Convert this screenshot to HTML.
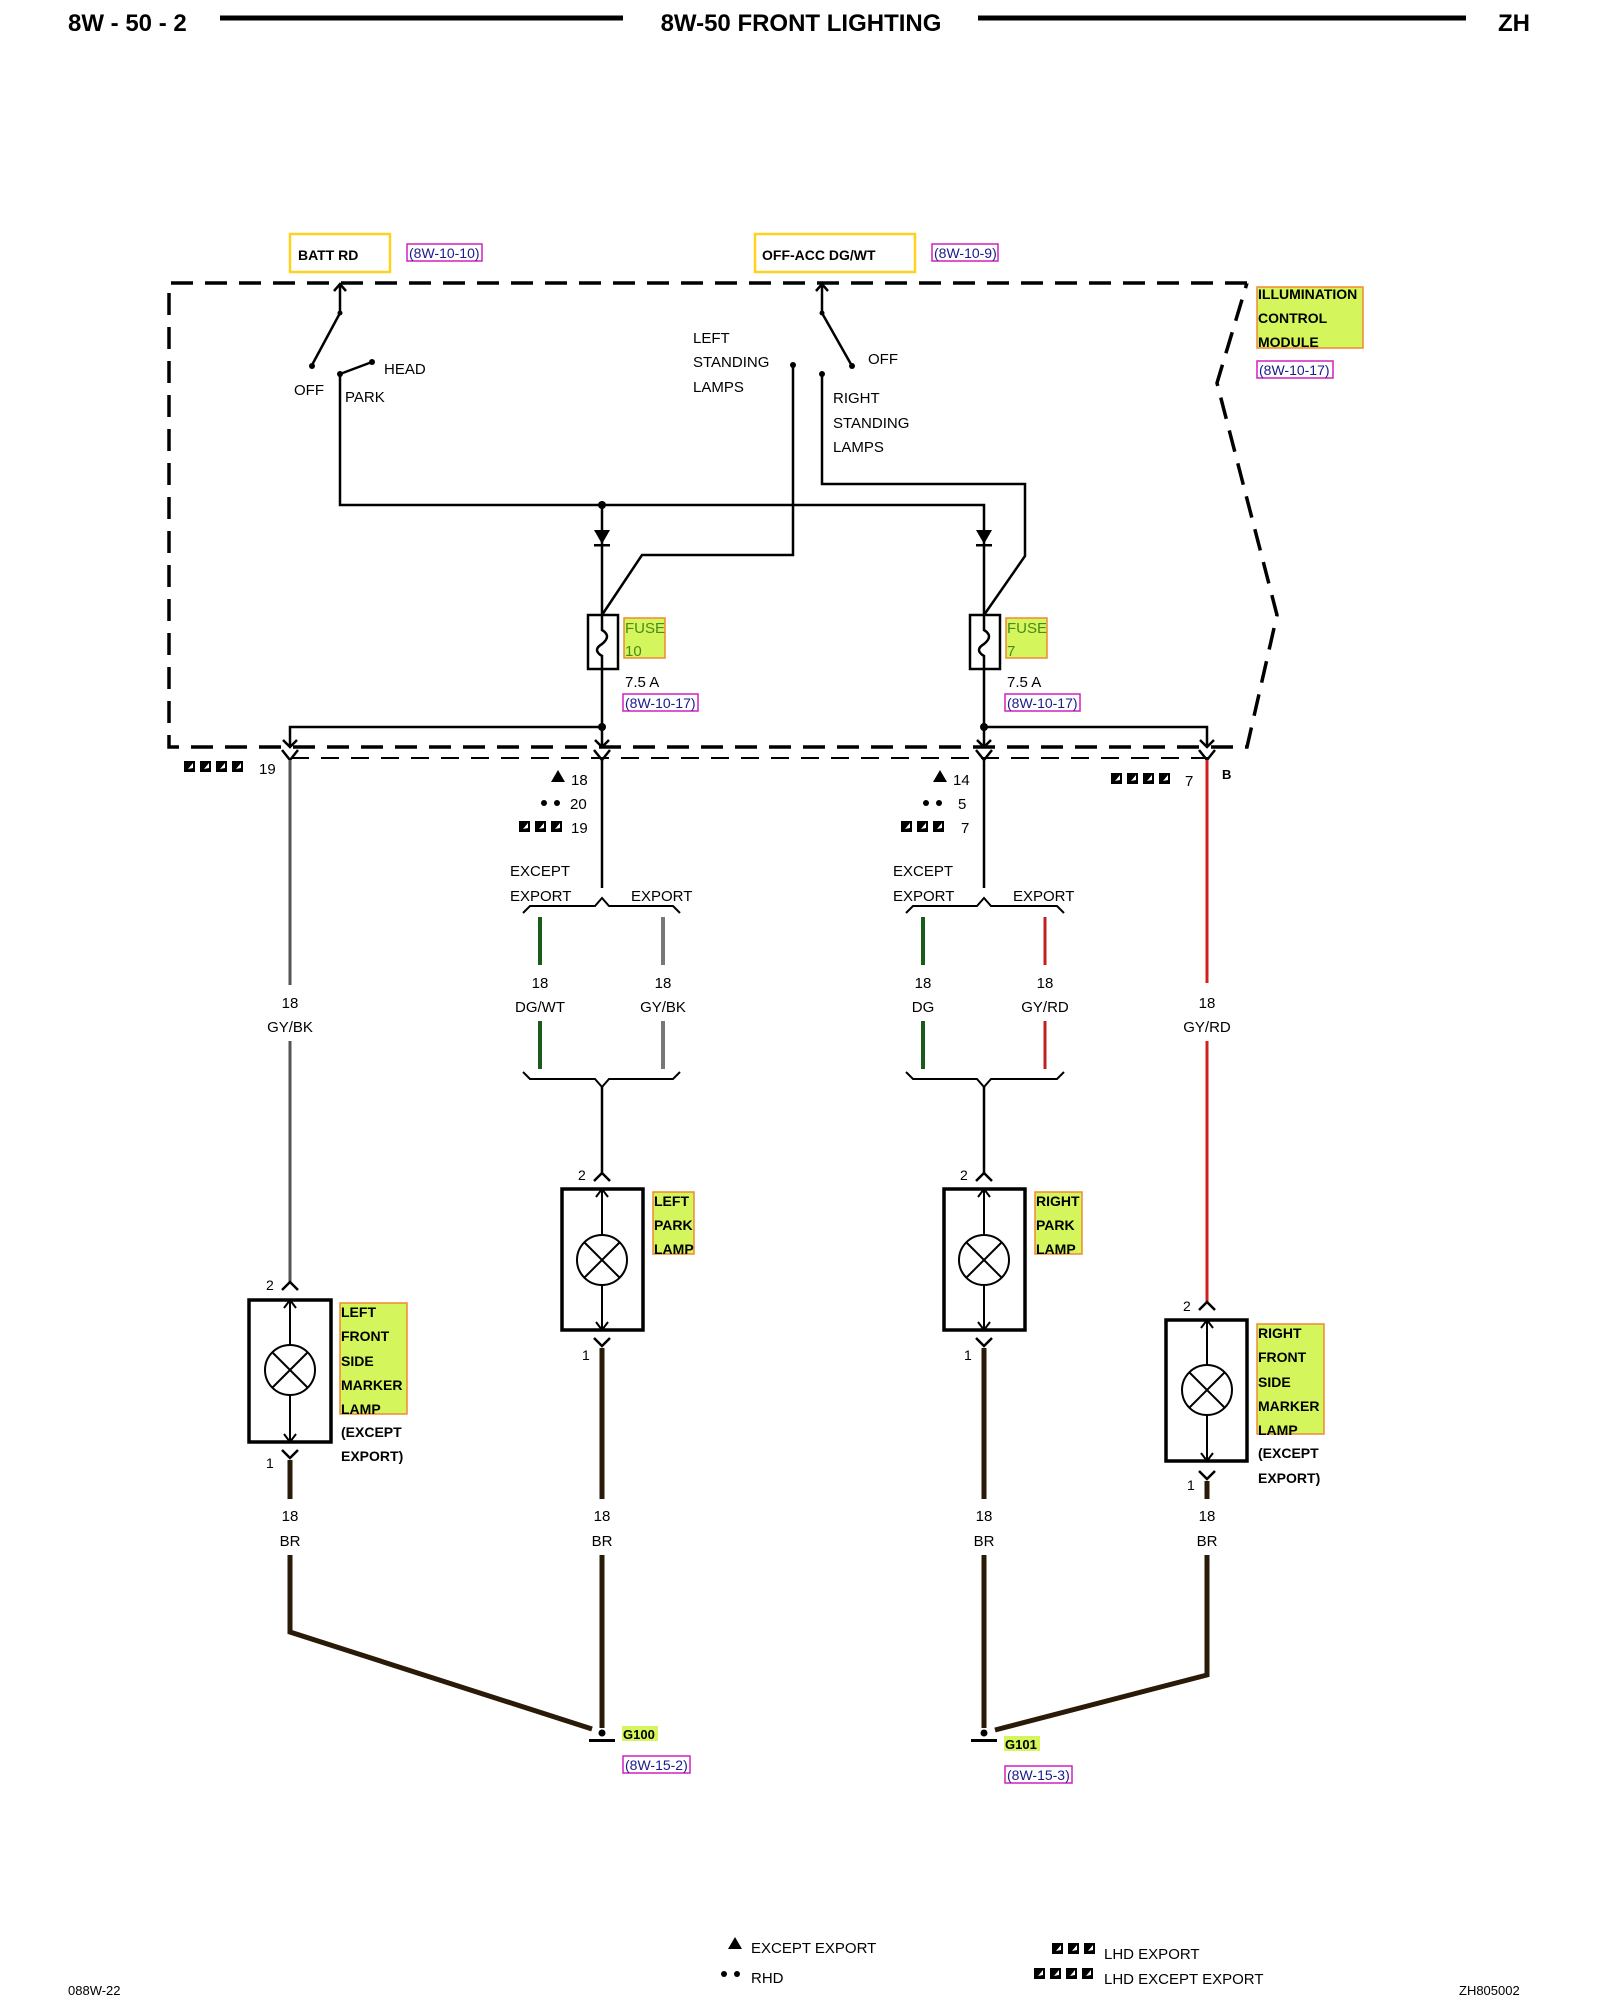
<!DOCTYPE html>
<html><head><meta charset="utf-8"><style>
html,body{margin:0;padding:0;background:#fff}
svg{display:block}
text{font-family:"Liberation Sans",sans-serif;fill:#000}
.s{font-size:15px}
.b{font-size:15px;font-weight:bold}
.r{font-size:14px;fill:#1a1a8c}
</style></head><body>
<svg width="1600" height="2000" viewBox="0 0 1600 2000" xmlns="http://www.w3.org/2000/svg">
<defs>
<g id="sq"><rect x="0" y="-11" width="11" height="11" fill="#000"/><path d="M4,-3 L9,-9 L9,-4 Z" fill="#fff"/></g>
</defs>
<!-- header -->
<text x="68" y="31" style="font-size:24px;font-weight:bold">8W - 50 - 2</text>
<line x1="220" y1="18" x2="623" y2="18" stroke="#000" stroke-width="5"/>
<text x="801" y="31" text-anchor="middle" style="font-size:24px;font-weight:bold">8W-50 FRONT LIGHTING</text>
<line x1="978" y1="18" x2="1466" y2="18" stroke="#000" stroke-width="5"/>
<text x="1498" y="31" style="font-size:24px;font-weight:bold">ZH</text>

<!-- top labels -->
<rect x="290" y="234" width="100" height="38" fill="#fff" stroke="#ffd21f" stroke-width="2.5"/>
<text x="298" y="260" class="b" style="font-size:14px">BATT RD</text>
<rect x="407" y="244" width="75" height="17" fill="#fff" stroke="#d020c0" stroke-width="1.5"/>
<text x="409" y="258" class="r">(8W-10-10)</text>
<rect x="755" y="234" width="160" height="38" fill="#fff" stroke="#ffd21f" stroke-width="2.5"/>
<text x="762" y="260" class="b" style="font-size:14px">OFF-ACC DG/WT</text>
<rect x="932" y="244" width="66" height="17" fill="#fff" stroke="#d020c0" stroke-width="1.5"/>
<text x="934" y="258" class="r">(8W-10-9)</text>

<!-- module dashed box -->
<path d="M1247,283 L169,283 L169,747 L1247,747 L1277,615 L1217,383 L1247,283" fill="none" stroke="#000" stroke-width="3.5" stroke-dasharray="22,12"/>
<line x1="291" y1="758" x2="1209" y2="758" stroke="#000" stroke-width="2" stroke-dasharray="18,12"/>
<rect x="1257" y="287" width="106" height="61" fill="#d4f55c" stroke="#f08a30" stroke-width="1.5"/>
<text x="1258" y="299" class="b" style="font-size:14px">ILLUMINATION</text>
<text x="1258" y="323" class="b" style="font-size:14px">CONTROL</text>
<text x="1258" y="347" class="b" style="font-size:14px">MODULE</text>
<rect x="1257" y="361" width="76" height="17" fill="#fff" stroke="#d020c0" stroke-width="1.5"/>
<text x="1259" y="375" class="r">(8W-10-17)</text>

<g stroke="#000" stroke-width="2.5" fill="none">
<!-- switch 1 -->
<path d="M334,291 L340,284 L346,291"/>
<line x1="340" y1="284" x2="340" y2="313"/>
<line x1="340" y1="313" x2="312" y2="365"/>
<path d="M340,374 L372,362"/>
<path d="M340,374 L340,505 L984,505 L984,615"/>
<line x1="602" y1="505" x2="602" y2="615"/>
<!-- switch 2 -->
<path d="M816,291 L822,284 L828,291"/>
<line x1="822" y1="284" x2="822" y2="313"/>
<line x1="822" y1="313" x2="852" y2="366"/>
<path d="M822,374 L822,484 L1025,484 L1025,556 L984,615"/>
<path d="M793,365 L793,555 L642,555 L602,615"/>
<!-- fuses -->
<rect x="588" y="615" width="30" height="54"/>
<rect x="970" y="615" width="30" height="54"/>
<path d="M602,615 L602,630 Q612,636 602,644 Q592,650 602,656 L602,669"/>
<path d="M984,615 L984,630 Q994,636 984,644 Q974,650 984,656 L984,669"/>
<line x1="602" y1="669" x2="602" y2="747"/>
<line x1="984" y1="669" x2="984" y2="747"/>
<path d="M602,727 L290,727 L290,747"/>
<path d="M984,727 L1207,727 L1207,747"/>
<path d="M283,740 L290,747 L297,740 M595,740 L602,747 L609,740 M977,740 L984,747 L991,740 M1200,740 L1207,747 L1214,740"/>
<!-- connector Y at row -->
<path d="M282,750 L290,760 L298,750 M594,750 L602,760 L610,750 M976,750 L984,760 L992,750 M1199,750 L1207,760 L1215,750"/>
</g>
<g fill="#000">
<circle cx="312" cy="366" r="3"/><circle cx="340" cy="374" r="3"/><circle cx="372" cy="362" r="3"/><circle cx="340" cy="313" r="2.5"/>
<circle cx="852" cy="366" r="3"/><circle cx="822" cy="374" r="3"/><circle cx="793" cy="365" r="3"/><circle cx="822" cy="313" r="2.5"/>
<circle cx="602" cy="505" r="4"/><circle cx="602" cy="727" r="4"/><circle cx="984" cy="727" r="4"/>
<path d="M594,530 L610,530 L602,544 Z"/><rect x="594" y="544" width="16" height="2.5"/>
<path d="M976,530 L992,530 L984,544 Z"/><rect x="976" y="544" width="16" height="2.5"/>
</g>
<text x="294" y="395" class="s">OFF</text>
<text x="345" y="402" class="s">PARK</text>
<text x="384" y="374" class="s">HEAD</text>
<text x="693" y="343" class="s">LEFT</text>
<text x="693" y="367" class="s">STANDING</text>
<text x="693" y="392" class="s">LAMPS</text>
<text x="868" y="364" class="s">OFF</text>
<text x="833" y="403" class="s">RIGHT</text>
<text x="833" y="428" class="s">STANDING</text>
<text x="833" y="452" class="s">LAMPS</text>
<rect x="624" y="618" width="41" height="40" fill="#d4f55c" stroke="#f08a30" stroke-width="1.5"/>
<text x="625" y="633" class="s" style="fill:#4a8a1a">FUSE</text><text x="625" y="656" class="s" style="fill:#4a8a1a">10</text>
<rect x="1006" y="618" width="41" height="40" fill="#d4f55c" stroke="#f08a30" stroke-width="1.5"/>
<text x="1007" y="633" class="s" style="fill:#4a8a1a">FUSE</text><text x="1007" y="656" class="s" style="fill:#4a8a1a">7</text>
<text x="625" y="687" class="s">7.5 A</text>
<rect x="623" y="694" width="75" height="17" fill="#fff" stroke="#d020c0" stroke-width="1.5"/><text x="625" y="708" class="r">(8W-10-17)</text>
<text x="1007" y="687" class="s">7.5 A</text>
<rect x="1005" y="694" width="75" height="17" fill="#fff" stroke="#d020c0" stroke-width="1.5"/><text x="1007" y="708" class="r">(8W-10-17)</text>

<!-- connector row labels -->
<use href="#sq" x="184" y="772"/><use href="#sq" x="200" y="772"/><use href="#sq" x="216" y="772"/><use href="#sq" x="232" y="772"/>
<text x="259" y="774" class="s">19</text>
<path d="M551,782 L558,770 L565,782 Z"/><text x="571" y="785" class="s">18</text>
<circle cx="544" cy="803" r="3"/><circle cx="557" cy="803" r="3"/><text x="570" y="809" class="s">20</text>
<use href="#sq" x="519" y="832"/><use href="#sq" x="535" y="832"/><use href="#sq" x="551" y="832"/><text x="571" y="833" class="s">19</text>
<path d="M933,782 L940,770 L947,782 Z"/><text x="953" y="785" class="s">14</text>
<circle cx="926" cy="803" r="3"/><circle cx="939" cy="803" r="3"/><text x="958" y="809" class="s">5</text>
<use href="#sq" x="901" y="832"/><use href="#sq" x="917" y="832"/><use href="#sq" x="933" y="832"/><text x="961" y="833" class="s">7</text>
<use href="#sq" x="1111" y="784"/><use href="#sq" x="1127" y="784"/><use href="#sq" x="1143" y="784"/><use href="#sq" x="1159" y="784"/>
<text x="1185" y="786" class="s">7</text>
<text x="1222" y="779" class="b" style="font-size:13px">B</text>

<!-- left marker wire -->
<g fill="none" stroke-width="3">
<line x1="290" y1="760" x2="290" y2="985" stroke="#555"/>
<line x1="290" y1="1041" x2="290" y2="1284" stroke="#555"/>
<line x1="1207" y1="760" x2="1207" y2="983" stroke="#d02020"/>
<line x1="1207" y1="1041" x2="1207" y2="1304" stroke="#d02020"/>
<line x1="602" y1="760" x2="602" y2="888" stroke="#000" stroke-width="2.5"/>
<line x1="984" y1="760" x2="984" y2="888" stroke="#000" stroke-width="2.5"/>
<line x1="540" y1="917" x2="540" y2="965" stroke="#1a5a1a" stroke-width="4"/>
<line x1="540" y1="1021" x2="540" y2="1069" stroke="#1a5a1a" stroke-width="4"/>
<line x1="663" y1="917" x2="663" y2="965" stroke="#777" stroke-width="4"/>
<line x1="663" y1="1021" x2="663" y2="1069" stroke="#777" stroke-width="4"/>
<line x1="923" y1="917" x2="923" y2="965" stroke="#1a5a1a" stroke-width="4"/>
<line x1="923" y1="1021" x2="923" y2="1069" stroke="#1a5a1a" stroke-width="4"/>
<line x1="1045" y1="917" x2="1045" y2="965" stroke="#c02020" stroke-width="3"/>
<line x1="1045" y1="1021" x2="1045" y2="1069" stroke="#c02020" stroke-width="3"/>
</g>
<g fill="none" stroke="#000" stroke-width="2">
<path d="M523,913 L530,906 L595,906 L602,898 L609,906 L673,906 L680,913"/>
<path d="M523,1072 L530,1079 L595,1079 L602,1087 L609,1079 L673,1079 L680,1072"/>
<path d="M906,913 L913,906 L977,906 L984,898 L991,906 L1057,906 L1064,913"/>
<path d="M906,1072 L913,1079 L977,1079 L984,1087 L991,1079 L1057,1079 L1064,1072"/>
<line x1="602" y1="1087" x2="602" y2="1175" stroke-width="2.5"/>
<line x1="984" y1="1087" x2="984" y2="1175" stroke-width="2.5"/>
</g>
<text x="510" y="876" class="s">EXCEPT</text><text x="510" y="901" class="s">EXPORT</text><text x="631" y="901" class="s">EXPORT</text>
<text x="893" y="876" class="s">EXCEPT</text><text x="893" y="901" class="s">EXPORT</text><text x="1013" y="901" class="s">EXPORT</text>
<g class="s" text-anchor="middle">
<text x="290" y="1008">18</text><text x="290" y="1032">GY/BK</text>
<text x="540" y="988">18</text><text x="540" y="1012">DG/WT</text>
<text x="663" y="988">18</text><text x="663" y="1012">GY/BK</text>
<text x="923" y="988">18</text><text x="923" y="1012">DG</text>
<text x="1045" y="988">18</text><text x="1045" y="1012">GY/RD</text>
<text x="1207" y="1008">18</text><text x="1207" y="1032">GY/RD</text>
<text x="290" y="1521">18</text><text x="290" y="1546">BR</text>
<text x="602" y="1521">18</text><text x="602" y="1546">BR</text>
<text x="984" y="1521">18</text><text x="984" y="1546">BR</text>
<text x="1207" y="1521">18</text><text x="1207" y="1546">BR</text>
</g>

<!-- lamps -->
<g fill="none" stroke="#000">
<!-- left marker -->
<path d="M282,1290 L290,1282 L298,1290" stroke-width="2.5"/>
<rect x="249" y="1300" width="82" height="142" stroke-width="3.5"/>
<line x1="290" y1="1300" x2="290" y2="1442" stroke-width="2"/>
<path d="M284,1308 L290,1300 L296,1308 M284,1434 L290,1442 L296,1434" stroke-width="2"/>
<circle cx="290" cy="1370" r="25" fill="#fff" stroke-width="2"/>
<path d="M272,1352 L308,1388 M308,1352 L272,1388" stroke-width="2"/>
<path d="M282,1450 L290,1458 L298,1450" stroke-width="2.5"/>
<!-- left park -->
<path d="M594,1181 L602,1173 L610,1181" stroke-width="2.5"/>
<rect x="562" y="1189" width="81" height="141" stroke-width="3.5"/>
<line x1="602" y1="1189" x2="602" y2="1330" stroke-width="2"/>
<path d="M596,1197 L602,1189 L608,1197 M596,1322 L602,1330 L608,1322" stroke-width="2"/>
<circle cx="602" cy="1260" r="25" fill="#fff" stroke-width="2"/>
<path d="M584,1242 L620,1278 M620,1242 L584,1278" stroke-width="2"/>
<path d="M594,1338 L602,1346 L610,1338" stroke-width="2.5"/>
<!-- right park -->
<path d="M976,1181 L984,1173 L992,1181" stroke-width="2.5"/>
<rect x="944" y="1189" width="81" height="141" stroke-width="3.5"/>
<line x1="984" y1="1189" x2="984" y2="1330" stroke-width="2"/>
<path d="M978,1197 L984,1189 L990,1197 M978,1322 L984,1330 L990,1322" stroke-width="2"/>
<circle cx="984" cy="1260" r="25" fill="#fff" stroke-width="2"/>
<path d="M966,1242 L1002,1278 M1002,1242 L966,1278" stroke-width="2"/>
<path d="M976,1338 L984,1346 L992,1338" stroke-width="2.5"/>
<!-- right marker -->
<path d="M1199,1310 L1207,1302 L1215,1310" stroke-width="2.5"/>
<rect x="1166" y="1320" width="81" height="141" stroke-width="3.5"/>
<line x1="1207" y1="1320" x2="1207" y2="1461" stroke-width="2"/>
<path d="M1201,1328 L1207,1320 L1213,1328 M1201,1453 L1207,1461 L1213,1453" stroke-width="2"/>
<circle cx="1207" cy="1390" r="25" fill="#fff" stroke-width="2"/>
<path d="M1189,1372 L1225,1408 M1225,1372 L1189,1408" stroke-width="2"/>
<path d="M1199,1471 L1207,1479 L1215,1471" stroke-width="2.5"/>
</g>
<text x="266" y="1290" class="s" style="font-size:14px">2</text>
<text x="266" y="1468" class="s" style="font-size:14px">1</text>
<text x="578" y="1180" class="s" style="font-size:14px">2</text>
<text x="582" y="1360" class="s" style="font-size:14px">1</text>
<text x="960" y="1180" class="s" style="font-size:14px">2</text>
<text x="964" y="1360" class="s" style="font-size:14px">1</text>
<text x="1183" y="1311" class="s" style="font-size:14px">2</text>
<text x="1187" y="1490" class="s" style="font-size:14px">1</text>

<g class="b" style="font-size:14px">
<rect x="340" y="1303" width="67" height="111" fill="#d4f55c" stroke="#f08a30" stroke-width="1.5"/>
<text x="341" y="1317">LEFT</text><text x="341" y="1341">FRONT</text><text x="341" y="1366">SIDE</text><text x="341" y="1390">MARKER</text><text x="341" y="1414">LAMP</text>
<text x="341" y="1437">(EXCEPT</text><text x="341" y="1461">EXPORT)</text>
<rect x="653" y="1192" width="41" height="62" fill="#d4f55c" stroke="#f08a30" stroke-width="1.5"/>
<text x="654" y="1206">LEFT</text><text x="654" y="1230">PARK</text><text x="654" y="1254">LAMP</text>
<rect x="1035" y="1192" width="47" height="62" fill="#d4f55c" stroke="#f08a30" stroke-width="1.5"/>
<text x="1036" y="1206">RIGHT</text><text x="1036" y="1230">PARK</text><text x="1036" y="1254">LAMP</text>
<rect x="1257" y="1324" width="67" height="110" fill="#d4f55c" stroke="#f08a30" stroke-width="1.5"/>
<text x="1258" y="1338">RIGHT</text><text x="1258" y="1362">FRONT</text><text x="1258" y="1387">SIDE</text><text x="1258" y="1411">MARKER</text><text x="1258" y="1435">LAMP</text>
<text x="1258" y="1458">(EXCEPT</text><text x="1258" y="1483">EXPORT)</text>
</g>

<!-- ground wires -->
<g fill="none" stroke="#2a1a08" stroke-width="5" stroke-linejoin="miter">
<line x1="290" y1="1460" x2="290" y2="1499"/>
<path d="M290,1555 L290,1632 L592,1729"/>
<line x1="602" y1="1348" x2="602" y2="1499"/>
<line x1="602" y1="1555" x2="602" y2="1728"/>
<line x1="984" y1="1348" x2="984" y2="1499"/>
<line x1="984" y1="1555" x2="984" y2="1728"/>
<line x1="1207" y1="1481" x2="1207" y2="1499"/>
<path d="M1207,1555 L1207,1675 L995,1730"/>
</g>
<g fill="#000">
<circle cx="602" cy="1733" r="3.5"/><rect x="589" y="1739" width="26" height="3"/>
<circle cx="984" cy="1733" r="3.5"/><rect x="971" y="1739" width="26" height="3"/>
</g>
<rect x="622" y="1726" width="36" height="15" fill="#d4f55c"/>
<text x="623" y="1739" class="b" style="font-size:13px">G100</text>
<rect x="623" y="1756" width="67" height="17" fill="#fff" stroke="#d020c0" stroke-width="1.5"/><text x="625" y="1770" class="r">(8W-15-2)</text>
<rect x="1004" y="1736" width="36" height="15" fill="#d4f55c"/>
<text x="1005" y="1749" class="b" style="font-size:13px">G101</text>
<rect x="1005" y="1766" width="67" height="17" fill="#fff" stroke="#d020c0" stroke-width="1.5"/><text x="1007" y="1780" class="r">(8W-15-3)</text>

<!-- legend -->
<path d="M728,1949 L735,1937 L742,1949 Z"/>
<text x="751" y="1953" class="s">EXCEPT EXPORT</text>
<circle cx="724" cy="1974" r="3"/><circle cx="737" cy="1974" r="3"/>
<text x="751" y="1983" class="s">RHD</text>
<use href="#sq" x="1052" y="1954"/><use href="#sq" x="1068" y="1954"/><use href="#sq" x="1084" y="1954"/>
<text x="1104" y="1959" class="s">LHD EXPORT</text>
<use href="#sq" x="1034" y="1979"/><use href="#sq" x="1050" y="1979"/><use href="#sq" x="1066" y="1979"/><use href="#sq" x="1082" y="1979"/>
<text x="1104" y="1984" class="s">LHD EXCEPT EXPORT</text>
<text x="68" y="1995" style="font-size:13px">088W-22</text>
<text x="1459" y="1995" style="font-size:13px">ZH805002</text>
</svg>
</body></html>
